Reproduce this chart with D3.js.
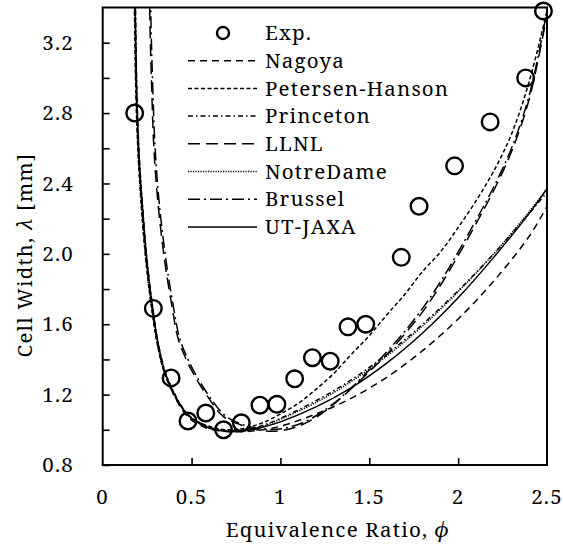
<!DOCTYPE html>
<html><head><meta charset="utf-8">
<script src="https://cdn.jsdelivr.net/npm/d3@7/dist/d3.min.js"></script>
<style>body{margin:0;background:#fff}svg{display:block}text{font-family:"Noto Serif","Liberation Serif",serif;fill:#000}</style>
</head><body><svg id="c" width="563" height="545"></svg>
<script>
// Experimental data
const expPhi = [0.18,0.285,0.385,0.48,0.58,0.68,0.78,0.885,0.98,1.08,1.18,1.28,1.38,1.48,1.68,1.78,1.98,2.18,2.38,2.48];
const expLam = [2.80,1.69,1.295,1.05,1.095,1.00,1.04,1.14,1.145,1.29,1.41,1.39,1.585,1.60,1.98,2.27,2.50,2.75,3.00,3.38];

// Model curves [phi, lambda]
const nagoya = [[0.178,3.6],[0.183,3.3],[0.190,2.9],[0.203,2.55],[0.222,2.25],[0.247,1.95],[0.277,1.70],[0.307,1.50],[0.347,1.33],[0.4,1.20],[0.45,1.11],[0.5,1.055],[0.6,1.005],[0.7,0.99],[0.8,0.99],[0.9,1.0],[1.0,1.02],[1.2,1.09],[1.4,1.18],[1.6,1.30],[1.8,1.45],[2.0,1.63],[2.2,1.845],[2.4,2.10],[2.5,2.27]];
const petersen = [[0.175,3.6],[0.180,3.3],[0.187,2.9],[0.200,2.55],[0.219,2.25],[0.244,1.95],[0.274,1.70],[0.305,1.50],[0.345,1.33],[0.4,1.20],[0.45,1.12],[0.5,1.065],[0.6,1.02],[0.7,1.0],[0.8,1.01],[0.9,1.04],[1.0,1.09],[1.1,1.15],[1.2,1.23],[1.3,1.32],[1.4,1.43],[1.5,1.535],[1.6,1.655],[1.7,1.77],[1.8,1.90],[1.9,2.01],[2.0,2.15],[2.1,2.30],[2.2,2.47],[2.3,2.68],[2.4,2.98],[2.5,3.38]];
const princeton = [[0.181,3.6],[0.186,3.3],[0.193,2.9],[0.206,2.55],[0.226,2.25],[0.251,1.95],[0.281,1.70],[0.311,1.50],[0.351,1.33],[0.4,1.215],[0.45,1.125],[0.5,1.07],[0.6,1.015],[0.7,0.995],[0.8,1.0],[0.9,1.025],[1.0,1.065],[1.2,1.165],[1.4,1.285],[1.6,1.43],[1.8,1.60],[2.0,1.79],[2.2,2.0],[2.4,2.23],[2.5,2.35]];
const llnl = [[0.262,3.6],[0.266,3.3],[0.274,3.0],[0.288,2.6],[0.31,2.3],[0.35,1.95],[0.39,1.70],[0.424,1.52],[0.47,1.40],[0.51,1.32],[0.59,1.19],[0.68,1.075],[0.8,1.02],[0.9,0.995],[1.0,0.995],[1.1,1.02],[1.2,1.07],[1.3,1.145],[1.4,1.235],[1.5,1.33],[1.6,1.43],[1.7,1.545],[1.8,1.67],[1.9,1.82],[2.0,1.99],[2.1,2.17],[2.2,2.36],[2.3,2.58],[2.4,2.88],[2.5,3.36]];
const notreDame = [[0.176,3.6],[0.181,3.3],[0.188,2.9],[0.201,2.55],[0.220,2.25],[0.245,1.95],[0.275,1.70],[0.306,1.50],[0.346,1.33],[0.4,1.21],[0.45,1.12],[0.5,1.065],[0.6,1.01],[0.7,0.995],[0.8,1.0],[0.9,1.02],[1.0,1.06],[1.2,1.155],[1.4,1.275],[1.6,1.42],[1.8,1.59],[2.0,1.785],[2.2,2.0],[2.4,2.24],[2.5,2.37]];
const brussel = [[0.268,3.6],[0.272,3.3],[0.280,3.0],[0.295,2.6],[0.317,2.3],[0.358,1.95],[0.398,1.70],[0.433,1.52],[0.48,1.40],[0.52,1.32],[0.60,1.19],[0.69,1.08],[0.8,1.025],[0.9,1.005],[1.0,1.005],[1.1,1.03],[1.2,1.08],[1.3,1.15],[1.4,1.24],[1.5,1.34],[1.6,1.445],[1.7,1.56],[1.8,1.69],[1.9,1.84],[2.0,2.01],[2.1,2.19],[2.2,2.38],[2.3,2.60],[2.4,2.90],[2.5,3.38]];
const utJaxa = [[0.180,3.6],[0.185,3.3],[0.192,2.9],[0.205,2.55],[0.225,2.25],[0.25,1.95],[0.28,1.70],[0.31,1.50],[0.35,1.33],[0.4,1.21],[0.45,1.12],[0.5,1.065],[0.6,1.01],[0.7,0.99],[0.8,0.995],[0.9,1.015],[1.0,1.045],[1.2,1.13],[1.4,1.24],[1.6,1.38],[1.8,1.55],[2.0,1.75],[2.2,1.98],[2.4,2.23],[2.5,2.37]];

const seriesNames = ["Nagoya","Petersen-Hanson","Princeton","LLNL","NotreDame","Brussel","UT-JAXA"];
const seriesData = [nagoya, petersen, princeton, llnl, notreDame, brussel, utJaxa];
const seriesDash = ["7,5","4,2.5","5,3,1.5,3","12,6","1.2,1.3","12,4,2,4",null];

const xTicks = [0,0.5,1,1.5,2,2.5];
const yTicks = [0.8,1.2,1.6,2.0,2.4,2.8,3.2];
const yMinor = [0.8,1.0,1.2,1.4,1.6,1.8,2.0,2.2,2.4,2.6,2.8,3.0,3.2];

const FS = 20.5, LS = 1.2;
const L=102.7, R=547, T=7.5, B=465;
const x = d3.scaleLinear().domain([0,2.5]).range([L,R]);
const y = d3.scaleLinear().domain([0.8,3.4]).range([B,T]);
const svg = d3.select("#c");

svg.append("clipPath").attr("id","clip").append("rect")
  .attr("x",L).attr("y",T).attr("width",R-L).attr("height",B-T);

const line = d3.line().x(d=>x(d[0])).y(d=>y(d[1])).curve(d3.curveCatmullRom.alpha(0.5));
const g = svg.append("g").attr("clip-path","url(#clip)");
seriesData.forEach((s,i)=>{
  g.append("path").attr("d",line(s)).attr("fill","none").attr("stroke","#000")
   .attr("stroke-width",1.5).attr("stroke-dasharray",seriesDash[i]);
});

// exp circles
svg.append("g").selectAll("circle").data(expPhi).join("circle")
  .attr("cx",(d)=>x(d)).attr("cy",(d,i)=>y(expLam[i])).attr("r",8.3)
  .attr("fill","none").attr("stroke","#000").attr("stroke-width",2.4);

// frame
svg.append("rect").attr("x",L).attr("y",T).attr("width",R-L).attr("height",B-T)
  .attr("fill","none").attr("stroke","#000").attr("stroke-width",2);

// axes
const yAx = svg.append("g").attr("transform",`translate(${L},0)`)
  .call(d3.axisLeft(y).tickValues(yMinor).tickSizeInner(-7).tickSizeOuter(0).tickFormat(""));
yAx.select(".domain").remove();
yAx.selectAll("line").attr("stroke-width",1.6);
svg.append("g").selectAll("text").data(yTicks).join("text")
  .attr("x",74).attr("y",d=>y(d)).attr("dy","0.35em").attr("text-anchor","end")
  .attr("font-size",FS).attr("letter-spacing",LS).text(d=>d.toFixed(1));

const xAx = svg.append("g").attr("transform",`translate(0,${B})`)
  .call(d3.axisBottom(x).tickValues([0.5,1,1.5,2]).tickSizeInner(-7).tickSizeOuter(0).tickFormat(""));
xAx.select(".domain").remove();
xAx.selectAll("line").attr("stroke-width",1.6);
svg.append("g").selectAll("text").data(xTicks).join("text")
  .attr("x",d=>x(d)).attr("y",497).attr("dy","0.35em").attr("text-anchor","middle")
  .attr("font-size",FS).attr("letter-spacing",LS).text(d=>String(d));

svg.append("text").attr("x",338).attr("y",530).attr("dy","0.35em").attr("text-anchor","middle")
  .attr("font-size",FS).attr("letter-spacing",LS).html('Equivalence Ratio, <tspan font-style="italic">ϕ</tspan>');
svg.append("text").attr("transform","translate(25,255) rotate(-90)").attr("dy","0.35em")
  .attr("text-anchor","middle").attr("font-size",FS).attr("letter-spacing",LS)
  .html('Cell Width, <tspan font-style="italic">λ</tspan> [mm]');

// legend
const legY0 = 33, legDy = 27.7, lx1 = 188, lx2 = 257, tx = 265;
const lg = svg.append("g");
lg.append("circle").attr("cx",223).attr("cy",legY0).attr("r",6).attr("fill","none")
  .attr("stroke","#000").attr("stroke-width",2.4);
lg.append("text").attr("x",tx).attr("y",legY0).attr("dy","0.35em").attr("font-size",FS).attr("letter-spacing",LS).text("Exp.");
seriesNames.forEach((n,i)=>{
  const yy = legY0 + legDy*(i+1);
  lg.append("line").attr("x1",lx1).attr("x2",lx2).attr("y1",yy).attr("y2",yy)
    .attr("stroke","#000").attr("stroke-width",1.5).attr("stroke-dasharray",seriesDash[i]);
  lg.append("text").attr("x",tx).attr("y",yy).attr("dy","0.35em").attr("font-size",FS).attr("letter-spacing",LS).text(n);
});
</script></body></html>
